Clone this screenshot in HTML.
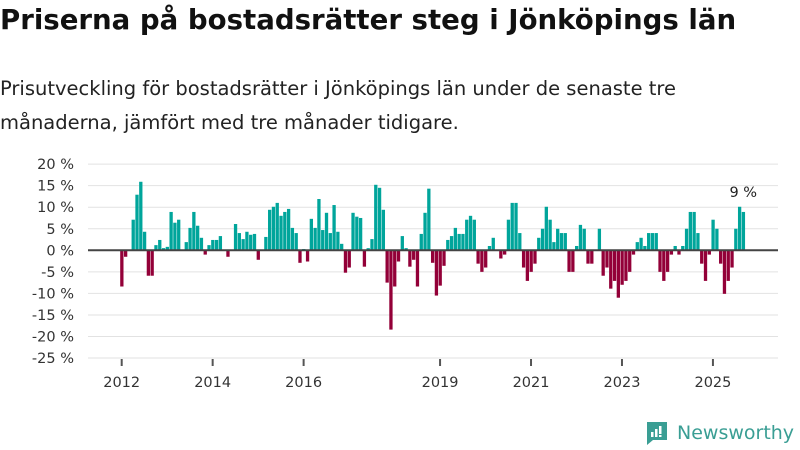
<!DOCTYPE html>
<html><head><meta charset="utf-8">
<style>
body{margin:0;width:800px;height:450px;background:#fff;font-family:"DejaVu Sans","Liberation Sans",sans-serif;overflow:hidden;position:relative}
h1{position:absolute;left:0;top:3px;margin:0;font-size:27.6px;font-weight:bold;color:#111;letter-spacing:0px;white-space:nowrap}
p{position:absolute;left:0;top:72px;margin:0;font-size:19.5px;line-height:34px;color:#222;width:760px}
svg{position:absolute;left:0;top:0}
</style></head><body>
<h1>Priserna på bostadsrätter steg i Jönköpings län</h1>
<p>Prisutveckling för bostadsrätter i Jönköpings län under de senaste tre<br>månaderna, jämfört med tre månader tidigare.</p>
<svg id="chart" width="800" height="450"></svg>
<script>
const values=[-8.4,-1.5,0,7.1,12.9,15.9,4.3,-5.9,-5.9,1.2,2.4,0.5,0.8,8.9,6.4,7.1,0,1.9,5.2,8.9,5.7,2.9,-1.0,1.2,2.4,2.4,3.3,0,-1.5,0,6.1,4.0,2.6,4.3,3.6,3.8,-2.2,0,3.1,9.4,10.1,11.0,8.0,8.9,9.6,5.2,4.0,-2.9,0.3,-2.6,7.3,5.2,11.9,4.7,8.7,4.0,10.5,4.3,1.5,-5.2,-4.0,8.7,7.8,7.5,-3.8,0.5,2.6,15.2,14.5,9.4,-7.5,-18.4,-8.4,-2.6,3.3,0.5,-3.8,-2.2,-8.4,3.8,8.7,14.3,-2.9,-10.5,-8.2,-3.6,2.4,3.3,5.2,3.8,3.8,7.1,8.0,7.1,-3.1,-5.0,-4.0,1.0,2.9,0,-1.9,-1.0,7.1,11.0,11.0,4.0,-4.0,-7.1,-5.0,-3.1,2.9,5.0,10.1,7.1,1.9,5.0,4.0,4.0,-5.0,-5.0,1.0,5.9,5.0,-3.1,-3.1,0,5.0,-5.9,-4.0,-8.9,-7.1,-11.0,-8.0,-7.1,-5.0,-1.0,1.9,2.9,1.0,4.0,4.0,4.0,-5.0,-7.1,-5.0,-1.0,1.0,-1.0,1.0,5.0,8.9,8.9,4.0,-3.1,-7.1,-1.0,7.1,5.0,-3.1,-10.1,-7.1,-4.0,5.0,10.1,8.9];
const yTicks=[20,15,10,5,0,-5,-10,-15,-20,-25];
const xTickLabels=["2012","2014","2016","2019","2021","2023","2025"];
const xTickMonths=[0,24,48,84,108,132,156];
const lastLabel="9 %";
const NS="http://www.w3.org/2000/svg";
const svg=document.getElementById('chart');
const y=v=>250.3-v*4.31;
const x=i=>120.2+i*3.79;
function el(t,a){const e=document.createElementNS(NS,t);for(const k in a)e.setAttribute(k,a[k]);svg.appendChild(e);return e;}
yTicks.forEach(t=>{
 const g=el('line',{x1:88,x2:778,y1:y(t),y2:y(t),stroke:'#e2e2e2','stroke-width':1});
 
 
 const tx=el('text',{x:74,y:y(t)+5,'text-anchor':'end','font-size':14.5,fill:'#333'});
 tx.textContent=t+' %';
 
 
});
values.forEach((v,i)=>{
 if(v===0)return;
 const r=el('rect',{x:x(i),width:3.3,y:v>0?y(v):y(0),height:Math.abs(y(v)-y(0)),fill:v>0?'#00a59b':'#930038'});
 
 
});
const z=el('line',{x1:88,x2:778,y1:y(0),y2:y(0),stroke:'#444','stroke-width':2});


xTickMonths.forEach((m,k)=>{
 const t=el('line',{x1:x(m)+1.5,x2:x(m)+1.5,y1:359,y2:366,stroke:'#555','stroke-width':2});
 
 
 const tx=el('text',{x:x(m)+1.5,y:387,'text-anchor':'middle','font-size':14.5,fill:'#333'});
 tx.textContent=xTickLabels[k];
 
 
});
const li=values.length-1;
const lb=el('text',{x:x(li)+1.5,y:Math.min(y(values[li]),y(0))-15,'text-anchor':'middle','font-size':14.5,fill:'#222'});
lb.textContent=lastLabel;


</script>
<div style="position:absolute;left:645px;top:420px;display:flex;align-items:center;gap:8px">
<svg width="24" height="26" viewBox="0 0 24 26" style="position:static"><path d="M2 2h20v18H8l-6 5z" fill="#3a9e94"/><rect x="6" y="12" width="2.5" height="5" fill="#fff"/><rect x="10" y="9" width="2.5" height="8" fill="#fff"/><rect x="14" y="6" width="2.5" height="8" fill="#fff"/><rect x="14" y="15" width="2.5" height="2" fill="#fff"/></svg>
<span style="font-size:19px;color:#3a9e94;font-weight:500">Newsworthy</span>
</div>
</body></html>
